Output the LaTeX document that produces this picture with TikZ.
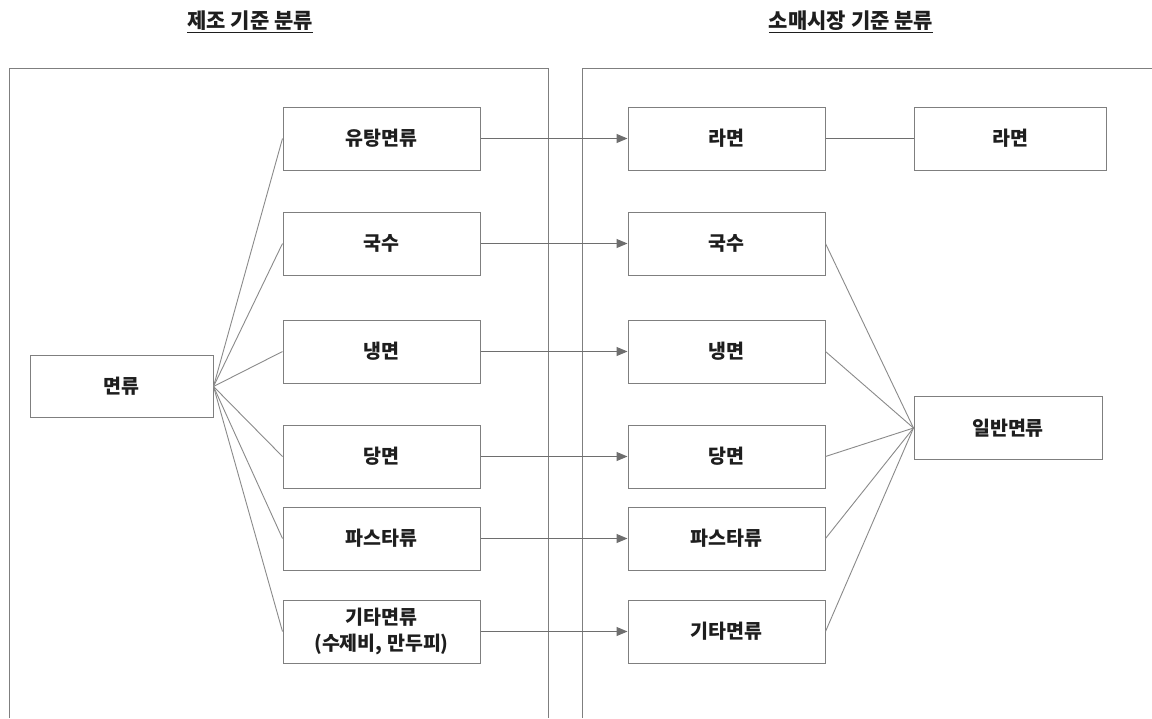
\documentclass[tikz,border=0pt]{standalone}
\usepackage{fontspec}
\setmainfont{Noto Sans CJK KR}
\usetikzlibrary{arrows.meta}
\definecolor{boxc}{HTML}{7F7F7F}
\definecolor{linec}{HTML}{8A8A8A}
\definecolor{arrc}{HTML}{6E6E6E}
\definecolor{txt}{HTML}{1E1E1E}
\tikzset{
  box/.style={draw=boxc, line width=1pt, minimum width=197pt, minimum height=63pt, inner sep=0pt, align=center, text=txt, font=\fontsize{19.5}{26}\selectfont\bfseries},
  panel/.style={draw=boxc, line width=1pt},
  fan/.style={draw=linec, line width=0.9pt},
  conn/.style={draw=arrc, line width=1pt, -{Triangle[length=11pt,width=9pt]}},
  plain/.style={draw=arrc, line width=1pt},
  title/.style={text=txt, font=\fontsize{21}{25}\selectfont\bfseries, inner sep=0pt}
}
\begin{document}
\begin{tikzpicture}[x=1pt,y=-1pt]
\useasboundingbox (0,0) rectangle (1152,718);
\fill[white] (0,0) rectangle (1152,718);
% titles
\node[title] (t1) at (250,22) {\underline{제조 기준 분류}};
\node[title] (t2) at (851,22) {\underline{소매시장 기준 분류}};
% panels
\coordinate (p1a) at (9,718);
\coordinate (p1b) at (9,68);
\coordinate (p1c) at (548,68);
\coordinate (p1d) at (548,718);
\draw[panel] (p1a) -- (p1b) -- (p1c) -- (p1d);
\coordinate (p2a) at (582,718);
\coordinate (p2b) at (582,68);
\coordinate (p2c) at (1153,68);
\draw[panel] (p2a) -- (p2b) -- (p2c);
% left nodes
\node[box, minimum width=183pt, minimum height=62pt] (myeon) at (121.5,386.5) {면류};
\node[box] (l1) at (381.5,138.5) {유탕면류};
\node[box] (l2) at (381.5,243.5) {국수};
\node[box] (l3) at (381.5,351.5) {냉면};
\node[box] (l4) at (381.5,456.5) {당면};
\node[box] (l5) at (381.5,538.5) {파스타류};
\node[box] (l6) at (381.5,631.5) {기타면류\\(수제비, 만두피)};
% middle nodes
\node[box] (m1) at (726.5,138.5) {라면};
\node[box] (m2) at (726.5,243.5) {국수};
\node[box] (m3) at (726.5,351.5) {냉면};
\node[box] (m4) at (726.5,456.5) {당면};
\node[box] (m5) at (726.5,538.5) {파스타류};
\node[box] (m6) at (726.5,631.5) {기타면류};
% right nodes
\node[box, minimum width=192pt] (r1) at (1010,138.5) {라면};
\node[box, minimum width=188pt] (r2) at (1008,428) {일반면류};
% fan from 면류
\foreach \i in {1,...,6}{\draw[fan] (myeon.east) -- (l\i.west);}
% arrows
\foreach \i in {1,...,6}{\draw[conn] (l\i.east) -- (m\i.west);}
\draw[plain] (m1.east) -- (r1.west);
% fan into 일반면류
\foreach \i in {2,...,6}{\draw[fan] (m\i.east) -- (r2.west);}
\end{tikzpicture}
\end{document}
